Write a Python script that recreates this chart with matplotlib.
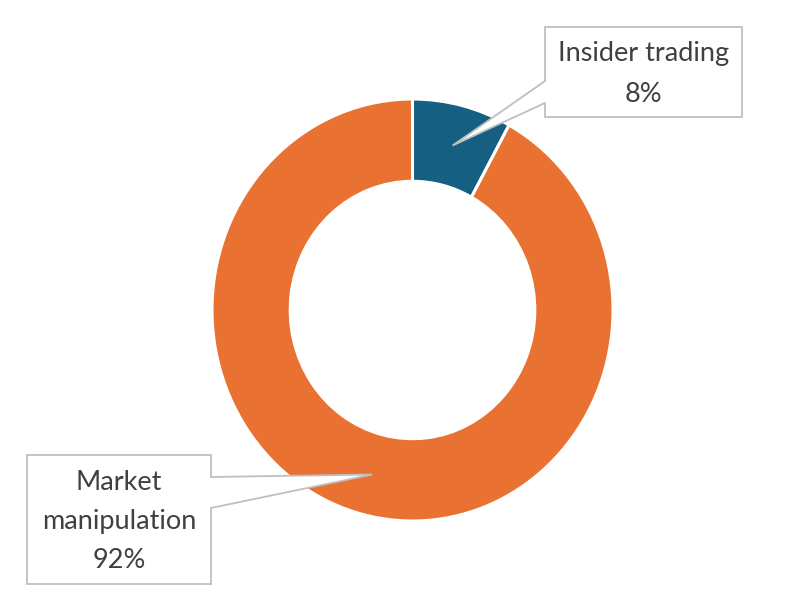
import numpy as np
import matplotlib
matplotlib.use("Agg")
from matplotlib import pyplot as plt
from matplotlib.patches import Polygon

# data
categories = ["Insider trading", "Market manipulation"]
shares = [8, 92]
box_labels = ["Insider trading\n8%", "Market\nmanipulation\n92%"]
colors = ["#156082", "#E97132"]

W, H = 800, 600
fig = plt.figure(figsize=(W / 100, H / 100), dpi=100)

# donut is slightly taller than wide in the original
cx, cy, rx, ry = 412.5, 310, 200.5, 211
ax = fig.add_axes([(cx - rx) / W, (H - cy - ry) / H, 2 * rx / W, 2 * ry / H])
wedges, _ = ax.pie(shares, colors=colors, startangle=90, counterclock=False,
                   radius=1.0,
                   wedgeprops=dict(width=0.39, edgecolor="white", linewidth=2.2))
ax.set_aspect("auto")
ax.set_xlim(-1, 1)
ax.set_ylim(-1, 1)
ax.axis("off")


def px(x, y):
    # top-left pixel coords -> figure fraction
    return (x / W, 1 - y / H)


def tip_of(w, r=0.805):
    # pointer tip at the middle of the wedge, in pixel coords
    mid = np.deg2rad((w.theta1 + w.theta2) / 2)
    dx, dy = ax.transData.transform((r * np.cos(mid), r * np.sin(mid)))
    return dx, H - dy


edge = "#BFBFBF"
txt = "#404040"

# callout for insider trading (box to the upper right, pointer from left edge)
tx, ty = tip_of(wedges[0])
pts = [(545, 27), (742, 27), (742, 117), (545, 117), (545, 103), (tx, ty), (545, 81)]
fig.patches.append(Polygon([px(*p) for p in pts], closed=True, transform=fig.transFigure,
                           facecolor="white", edgecolor=edge, linewidth=1.3, zorder=5))
for i, line in enumerate(box_labels[0].split("\n")):
    fig.text(*px(643.5, 54 + 40 * i), line, ha="center", va="center",
             fontsize=19.5, color=txt, family="Lato", zorder=6)

# callout for market manipulation (box lower left, pointer from right edge)
tx, ty = tip_of(wedges[1])
pts = [(27, 455), (211, 455), (211, 477), (tx, ty), (211, 508), (211, 584), (27, 584)]
fig.patches.append(Polygon([px(*p) for p in pts], closed=True, transform=fig.transFigure,
                           facecolor="white", edgecolor=edge, linewidth=1.3, zorder=5))
for i, line in enumerate(box_labels[1].split("\n")):
    fig.text(*px(119, 482 + 39 * i), line, ha="center", va="center",
             fontsize=19.5, color=txt, family="Lato", zorder=6)

fig.savefig("out.png", dpi=100)
